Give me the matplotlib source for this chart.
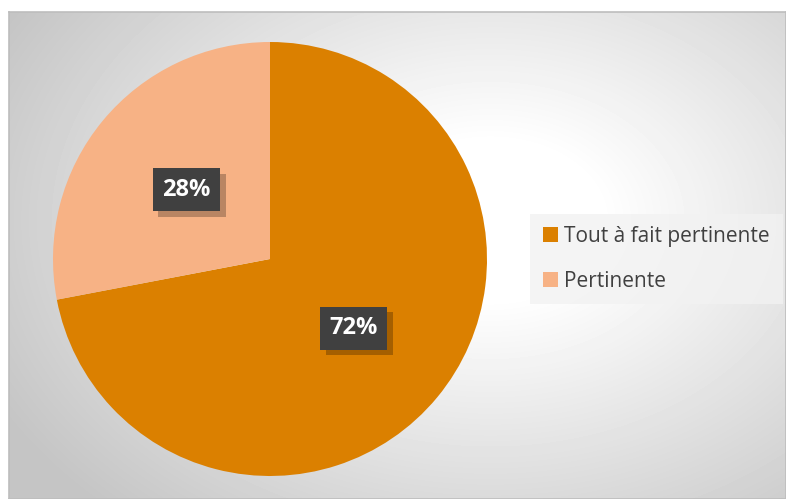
import numpy as np
import matplotlib.pyplot as plt
import matplotlib.patheffects as pe

labels = ["Tout à fait pertinente", "Pertinente"]
values = [72, 28]
colors = ["#DB8000", "#F7B285"]

W, H = 786, 499
fig = plt.figure(figsize=(W / 100, H / 100), dpi=100)
fig.patch.set_facecolor("white")

# chart area with radial gradient background
x0, y0 = 9, 12
bg = fig.add_axes([x0 / W, 0, 1 - x0 / W, 1 - y0 / H])
bg.set_xticks([])
bg.set_yticks([])
for s in bg.spines.values():
    s.set_color("#BDBDBD")
    s.set_linewidth(1.2)
xx, yy = np.meshgrid(np.arange(x0, W), np.arange(y0, H))
d = np.hypot(xx - 490, (yy - 220) * 1.4)
g = 1 - np.clip((d - 110) / 450, 0, 1) * 0.23
bg.imshow(g, cmap="gray", vmin=0, vmax=1, aspect="auto", interpolation="bilinear")

# pie
cx, cy, r = 270, 259, 217
ax = fig.add_axes([(cx - r) / W, (H - cy - r) / H, 2 * r / W, 2 * r / H])
ax.set_axis_off()
wedges, texts, autotexts = ax.pie(
    values, colors=colors, startangle=90, counterclock=False,
    autopct="%d%%", pctdistance=0.5,
    textprops=dict(color="white", fontsize=17, fontweight="bold", family="Open Sans"),
)
ax.set_xlim(-1, 1)
ax.set_ylim(-1, 1)
for t in autotexts:
    t.set_bbox(dict(boxstyle="square,pad=0.4", facecolor="#404040", edgecolor="none"))
    t.get_bbox_patch().set_path_effects([
        pe.SimplePatchShadow(offset=(4, -4), shadow_rgbFace="black", alpha=0.25),
        pe.Normal(),
    ])

leg = fig.legend(
    wedges, labels, loc="center left", bbox_to_anchor=(530 / W, 1 - 259 / H),
    borderaxespad=0, frameon=True, fancybox=False,
    handlelength=0.75, handleheight=0.75,
    handletextpad=0.3, labelspacing=1.15, borderpad=0.6,
    prop=dict(family="Open Sans", size=15),
)
leg.get_frame().set_facecolor("#F2F2F2")
leg.get_frame().set_edgecolor("none")
leg.get_frame().set_alpha(0.8)
for t in leg.get_texts():
    t.set_color("#404040")

fig.savefig("out.png", dpi=100)
